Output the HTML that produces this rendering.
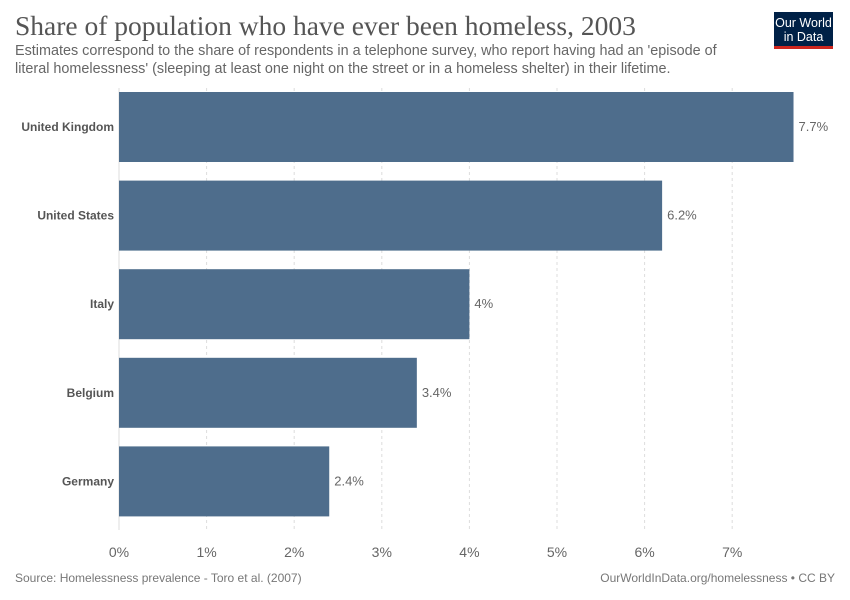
<!DOCTYPE html>
<html><head><meta charset="utf-8"><style>
body{margin:0;background:#fff;font-family:"Liberation Sans",sans-serif}
#c{position:relative;width:850px;height:600px;overflow:hidden}
</style></head><body>
<div id="c">
<svg width="850" height="600" id="s">
<text x="15" y="35" font-family="Liberation Serif,serif" font-size="27.5" fill="#555">Share of population who have ever been homeless, 2003</text>
<text x="15" y="55" font-size="14.4" fill="#666">Estimates correspond to the share of respondents in a telephone survey, who report having had an 'episode of</text>
<text x="15" y="73" font-size="14.4" fill="#666">literal homelessness' (sleeping at least one night on the street or in a homeless shelter) in their lifetime.</text>
<g><rect x="774" y="12" width="59" height="34" fill="#002147"/><rect x="774" y="46" width="59" height="3" fill="#ce261e"/>
<text x="803.5" y="27" font-size="12.5" fill="#fff" text-anchor="middle">Our World</text><text x="803.5" y="41" font-size="12.5" fill="#fff" text-anchor="middle">in Data</text></g>
<g id="g"></g>
<text x="15" y="582" font-size="12" fill="#777">Source: Homelessness prevalence - Toro et al. (2007)</text>
<text x="835" y="582" font-size="12" fill="#777" text-anchor="end">OurWorldInData.org/homelessness • CC BY</text>
</svg></div>
<script>
const categories=["United Kingdom","United States","Italy","Belgium","Germany"];
const values=[7.7,6.2,4,3.4,2.4];
const valueLabels=["7.7%","6.2%","4%","3.4%","2.4%"];
const ticks=[0,1,2,3,4,5,6,7];
const tickLabels=["0%","1%","2%","3%","4%","5%","6%","7%"];
const NS="http://www.w3.org/2000/svg",g=document.getElementById('g');
const x=v=>119+v*87.6, band=i=>92+i*88.6, bh=70;
function mk(t,a){const e=document.createElementNS(NS,t);for(const k in a)e.setAttribute(k,a[k]);g.appendChild(e);return e;}
ticks.forEach((t,i)=>{
 const l=mk('line',{x1:x(t),x2:x(t),y1:88,y2:530,stroke:'#ddd','stroke-dasharray':t?'3,3':'none'});
 
 
 const tx=mk('text',{x:x(t),y:557,'font-size':14,fill:'#666','text-anchor':'middle'});tx.textContent=tickLabels[i];
 
 
});
categories.forEach((c,i)=>{
 const y=band(i);
 const r=mk('rect',{x:x(0),y:y,width:x(values[i])-x(0),height:bh,fill:'#4e6d8c'});
 
 
 const lb=mk('text',{x:114,y:y+bh/2+4,'font-size':12,'font-weight':'bold',fill:'#555','text-anchor':'end'});lb.textContent=c;
 
 
 const vl=mk('text',{x:x(values[i])+5,y:y+bh/2+4,'font-size':13,fill:'#666'});vl.textContent=valueLabels[i];
 
 
});
</script>
</body></html>
